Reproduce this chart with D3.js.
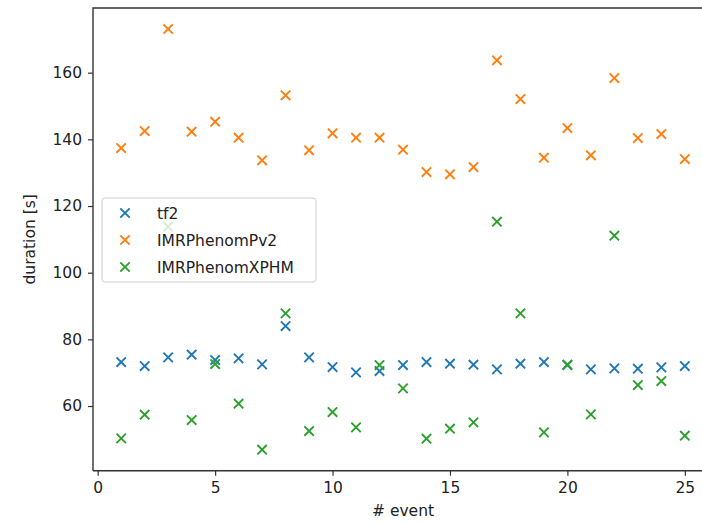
<!DOCTYPE html>
<html>
<head>
<meta charset="utf-8">
<script src="https://cdn.jsdelivr.net/npm/d3@7"></script>
<style>
  body { margin: 0; background: #fff; }
  text { font-family: "DejaVu Sans", sans-serif; fill: #222; }
</style>
</head>
<body>
<svg id="chart" width="702" height="525"></svg>
<script>
// event numbers
const events = d3.range(1, 26);

// durations [s] per waveform model
const tf2 = [73.2, 72.0, 74.6, 75.4, 73.8, 74.3, 72.5, 84.0, 74.6, 71.7, 70.1, 70.5, 72.3,
  73.2, 72.7, 72.4, 71.0, 72.7, 73.2, 72.3, 71.0, 71.3, 71.2, 71.6, 72.0];
const pv2 = [137.4, 142.5, 173.1, 142.3, 145.3, 140.5, 133.7, 153.2, 136.7, 141.8, 140.5, 140.5, 136.9,
  130.2, 129.5, 131.7, 163.7, 152.1, 134.5, 143.4, 135.2, 158.4, 140.4, 141.6, 134.1];
const xphm = [50.3, 57.4, 113.8, 55.8, 72.6, 60.7, 46.9, 87.8, 52.5, 58.2, 53.6, 72.3, 65.3,
  50.2, 53.2, 55.1, 115.3, 87.8, 52.1, 72.4, 57.5, 111.1, 66.3, 67.5, 51.1];

const seriesNames = ["tf2", "IMRPhenomPv2", "IMRPhenomXPHM"];
const seriesColors = ["#1f77b4", "#ff7f0e", "#2ca02c"];
const seriesValues = [tf2, pv2, xphm];

const xTicks = [0, 5, 10, 15, 20, 25];
const yTicks = [60, 80, 100, 120, 140, 160];

const svg = d3.select("#chart");
const plotL = 93, plotT = 8, plotB = 470.7, plotR = 713;

const x = d3.scaleLinear().domain([-0.2, 26.2]).range([plotL, plotR]);
const y = d3.scaleLinear().domain([40.6, 179.4]).range([plotB, plotT]);

// markers
function cross(g, cx, cy, color) {
  const r = 4.7;
  g.append("path")
    .attr("d", `M${cx - r},${cy - r}L${cx + r},${cy + r}M${cx - r},${cy + r}L${cx + r},${cy - r}`)
    .attr("stroke", color)
    .attr("stroke-width", 1.9)
    .attr("fill", "none");
}

const marks = svg.append("g");
seriesValues.forEach((vals, i) => {
  vals.forEach((v, j) => cross(marks, x(events[j]), y(v), seriesColors[i]));
});

// axes
const xAxis = svg.append("g")
  .attr("transform", `translate(0,${plotB})`)
  .call(d3.axisBottom(x).tickValues(xTicks).tickSize(5).tickPadding(6).tickFormat(d3.format("d")));
const yAxis = svg.append("g")
  .attr("transform", `translate(${plotL},0)`)
  .call(d3.axisLeft(y).tickValues(yTicks).tickSize(5).tickPadding(6).tickFormat(d3.format("d")));

[xAxis, yAxis].forEach(a => {
  a.select(".domain").remove();
  a.selectAll(".tick line").attr("stroke", "#333").attr("stroke-width", 1.2);
  a.selectAll(".tick text").style("font-size", "15.5px").attr("fill", "#222");
});

// spines
svg.append("path")
  .attr("d", `M${plotL},${plotB}L${plotL},${plotT}L${plotR},${plotT}`)
  .attr("fill", "none").attr("stroke", "#333").attr("stroke-width", 1.4);
svg.append("line")
  .attr("x1", plotL).attr("x2", plotR).attr("y1", plotB).attr("y2", plotB)
  .attr("stroke", "#333").attr("stroke-width", 1.4);

// axis labels
svg.append("text")
  .attr("x", 403).attr("y", 516)
  .attr("text-anchor", "middle")
  .style("font-size", "15.5px")
  .text("# event");
svg.append("text")
  .attr("transform", `translate(35,${(plotT + plotB) / 2}) rotate(-90)`)
  .attr("text-anchor", "middle")
  .style("font-size", "15.5px")
  .text("duration [s]");

// legend
const lg = svg.append("g").attr("transform", "translate(102,198)");
lg.append("rect")
  .attr("width", 214).attr("height", 84).attr("rx", 3)
  .attr("fill", "#fff").attr("fill-opacity", 0.8)
  .attr("stroke", "#ccc").attr("stroke-width", 1);
seriesNames.forEach((name, i) => {
  const yy = 15 + i * 27;
  cross(lg, 23, yy, seriesColors[i]);
  lg.append("text")
    .attr("x", 55).attr("y", yy + 5.5)
    .style("font-size", "15.5px")
    .text(name);
});
</script>
</body>
</html>
